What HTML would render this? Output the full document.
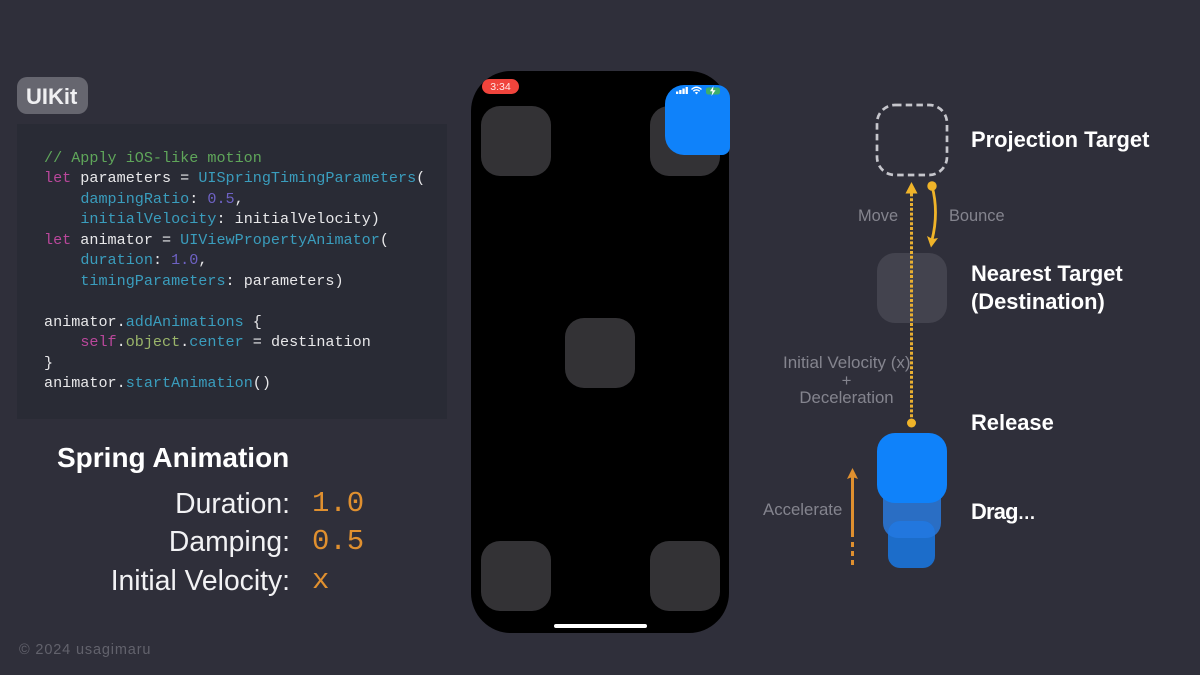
<!DOCTYPE html>
<html><head><meta charset="utf-8"><style>
html,body{margin:0;padding:0}
body{width:1200px;height:675px;background:#2f2f3a;position:relative;overflow:hidden;font-family:"Liberation Sans",sans-serif}
.a{position:absolute}
.t{position:absolute;white-space:nowrap;line-height:1}
.code{position:absolute;left:44px;top:148px;font:15.14px/20.45px "Liberation Mono",monospace;color:#e8e8ea;white-space:pre;margin:0}
.k{color:#b9479b}.b{color:#3a9dbd}.c{color:#5fa65a}.n{color:#6e62c4}.g{color:#9ab56a}
.sq{position:absolute;width:70px;height:70px;border-radius:19px;background:#333235}
.lb{position:absolute;font-weight:bold;font-size:21.900px;color:#fff;white-space:nowrap;line-height:28px}
.gr{position:absolute;font-size:16.800px;color:#84848e;white-space:nowrap;line-height:18px}
.r{position:absolute;right:910px;font-size:28.300px;color:#f2f2f4;white-space:nowrap;line-height:32px}
.o{position:absolute;left:312px;font:29px/32px "Liberation Mono",monospace;color:#e0902f}
</style></head><body>
<div class="a" style="left:17px;top:77px;width:71px;height:37px;border-radius:10px;background:#66666f"></div>
<div class="t" style="left:26px;top:85.500px;font-size:22px;font-weight:bold;color:#f0f0f2">UIKit</div>
<div class="a" style="left:17px;top:124px;width:430px;height:295px;background:#292b35"></div>
<pre class="code"><span class="c">// Apply iOS-like motion</span>
<span class="k">let</span> parameters = <span class="b">UISpringTimingParameters</span>(
    <span class="b">dampingRatio</span>: <span class="n">0.5</span>,
    <span class="b">initialVelocity</span>: initialVelocity)
<span class="k">let</span> animator = <span class="b">UIViewPropertyAnimator</span>(
    <span class="b">duration</span>: <span class="n">1.0</span>,
    <span class="b">timingParameters</span>: parameters)

animator.<span class="b">addAnimations</span> {
    <span class="k">self</span>.<span class="g">object</span>.<span class="b">center</span> = destination
}
animator.<span class="b">startAnimation</span>()</pre>
<div class="t" style="left:57px;top:444px;font-size:28px;font-weight:bold;color:#fff">Spring Animation</div>
<div class="r" style="top:487px">Duration:</div>
<div class="r" style="top:525px">Damping:</div>
<div class="r" style="top:564px">Initial Velocity:</div>
<div class="o" style="top:488px">1.0</div>
<div class="o" style="top:526px">0.5</div>
<div class="o" style="top:565px">x</div>
<div class="t" style="left:19px;top:642.500px;font-size:14.500px;letter-spacing:.85px;color:#62626c">© 2024 usagimaru</div>

<div class="a" style="left:471px;top:71px;width:258px;height:562px;border-radius:40px;background:#000"></div>
<div class="a" style="left:482px;top:79px;width:37px;height:15px;border-radius:8px;background:#f0443c"></div>
<div class="t" style="left:482px;top:82px;width:37px;text-align:center;font-size:10.500px;color:#ffe6e4">3:34</div>
<div class="sq" style="left:481px;top:106px"></div>
<div class="sq" style="left:650px;top:106px"></div>
<div class="sq" style="left:565px;top:318px"></div>
<div class="sq" style="left:481px;top:541px"></div>
<div class="sq" style="left:650px;top:541px"></div>
<div class="a" style="left:665px;top:85px;width:65px;height:70px;border-radius:19px 13px 8px 19px;background:#0f82fa"></div>
<svg class="a" style="left:665px;top:85px" width="65" height="12" viewBox="0 0 65 12">
<rect x="11" y="6.500" width="2.300" height="2.500" fill="#fff"/><rect x="14.200" y="5" width="2.300" height="4" fill="#fff"/><rect x="17.400" y="3.500" width="2.300" height="5.500" fill="#fff"/><rect x="20.600" y="2" width="2.300" height="7" fill="#fff"/>
<path d="M26.500 4.500 Q31.500 0 36.500 4.500 M28.300 6.200 Q31.500 3.400 34.700 6.200" fill="none" stroke="#fff" stroke-width="1.400"/><path d="M29.800 7.600 Q31.500 6.300 33.200 7.600 L31.500 9.400Z" fill="#fff"/>
<rect x="41" y="2.500" width="14" height="7" rx="2.200" fill="#3fae6a"/><path d="M48.500 1 L45 6.200 H47.500 L46.500 11 L50.500 5.200 H48Z" fill="#fff"/>
</svg>
<div class="a" style="left:554px;top:624px;width:93px;height:4px;border-radius:2px;background:#fff"></div>

<svg class="a" style="left:0;top:0" width="1200" height="675" viewBox="0 0 1200 675">
<defs><clipPath id="cp"><rect x="883" y="480" width="58" height="58" rx="15"/></clipPath></defs>
<rect x="877" y="105" width="70" height="70" rx="18" fill="none" stroke="#c6c6cc" stroke-width="2.700" stroke-dasharray="6.500 4.200"/>
<rect x="877" y="253" width="70" height="70" rx="18" fill="#43434e"/>
<rect x="883" y="480" width="58" height="58" rx="15" fill="#2a6ec4"/>
<rect x="888" y="521" width="47" height="47" rx="12" fill="#1c6dca"/>
<rect x="888" y="521" width="47" height="47" rx="12" fill="#2277de" clip-path="url(#cp)"/>
<rect x="877" y="433" width="70" height="70" rx="18" fill="#0f82fa"/>
<line x1="911.500" y1="422" x2="911.500" y2="192" stroke="#e9b032" stroke-width="3" stroke-dasharray="3 1.800"/>
<path d="M911.500 182 L905.500 193.500 H917.500Z" fill="#f0b429"/>
<circle cx="911.500" cy="423" r="4.500" fill="#f0b429"/>
<circle cx="932" cy="186" r="4.700" fill="#f0b429"/>
<path d="M932 186 Q939 212 932 240" fill="none" stroke="#f0b429" stroke-width="2.800"/>
<path d="M927 236 L932.500 239 L938 238 L931 247.500Z" fill="#f0b429"/>
<line x1="852.500" y1="476" x2="852.500" y2="537" stroke="#e0902f" stroke-width="3"/>
<line x1="852.500" y1="542" x2="852.500" y2="568" stroke="#e0902f" stroke-width="3" stroke-dasharray="5 4"/>
<path d="M852.500 468 L847 479 L852.500 477 L858 479Z" fill="#e0902f"/>
</svg>

<div class="lb" style="left:971px;top:126px">Projection Target</div>
<div class="lb" style="left:971px;top:260px">Nearest Target</div>
<div class="lb" style="left:971px;top:288px">(Destination)</div>
<div class="lb" style="left:971px;top:409px">Release</div>
<div class="lb" style="left:971px;top:498px;letter-spacing:-.8px">Drag<span style="font-size:18px;letter-spacing:0">…</span></div>
<div class="gr" style="left:858px;top:206.500px;font-size:16.400px">Move</div>
<div class="gr" style="left:949px;top:206.500px;font-size:16.400px">Bounce</div>
<div class="gr" style="left:783px;top:354px;font-size:17px">Initial Velocity (x)</div>
<div class="gr" style="left:783px;top:372px;width:127px;text-align:center">+</div>
<div class="gr" style="left:783px;top:389px;width:127px;text-align:center">Deceleration</div>
<div class="gr" style="left:763px;top:501px">Accelerate</div>
</body></html>
